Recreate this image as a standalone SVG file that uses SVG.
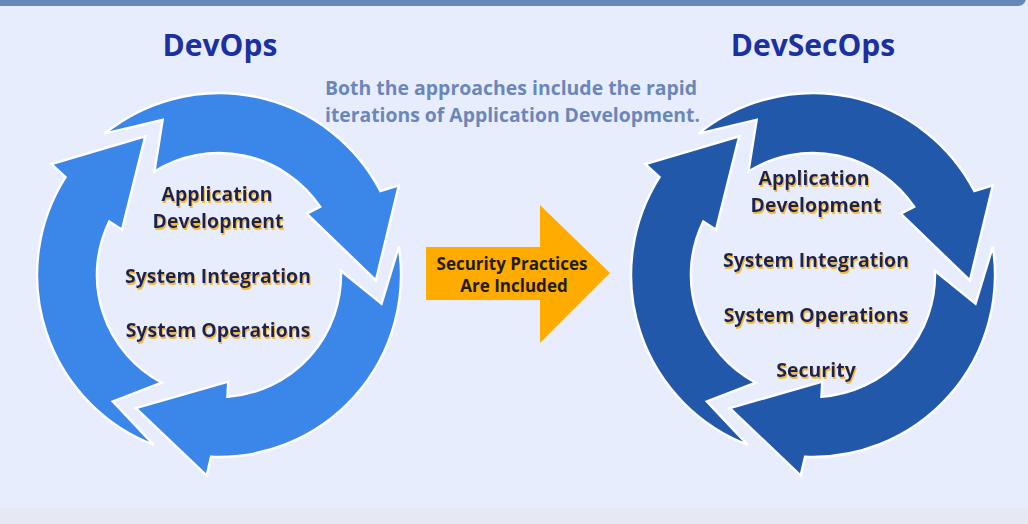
<svg xmlns="http://www.w3.org/2000/svg" width="1028" height="524" viewBox="0 0 1028 524">
<style>
.title{font-family:"Open Sans","Liberation Sans",sans-serif;font-weight:700;font-size:30px;fill:#1c31a0;text-anchor:middle}
.note{font-family:"Open Sans","Liberation Sans",sans-serif;font-weight:700;font-size:19.5px;fill:#6b87b9}
.item{font-family:"Open Sans","Liberation Sans",sans-serif;font-weight:700;font-size:19.5px;fill:#1b2350;text-anchor:middle}
.lbl{font-family:"Open Sans","Liberation Sans",sans-serif;font-weight:700;font-size:17px;fill:#231c05;text-anchor:middle}
.seg{stroke:#ffffff;stroke-width:2.5;stroke-linejoin:miter}
.devops .seg{fill:#3b87e9}
.devsecops .seg{fill:#2258a9}
</style>
<defs>
<filter id="ts" x="-5%" y="-30%" width="110%" height="160%">
<feOffset in="SourceAlpha" dx="1" dy="1.5" result="o"/>
<feFlood flood-color="#f0ba3c"/>
<feComposite in2="o" operator="in" result="s"/>
<feMerge><feMergeNode in="s"/><feMergeNode in="SourceGraphic"/></feMerge>
</filter>
<path id="arc1" d="M104.5 133.6 A182 182 0 0 1 380.4 191 L398.9 185.3 L375.9 280.5 L306.7 213.6 L320.1 206.8 A122 122 0 0 0 154.4 171.5 L162.6 119.9 Z"/>
<path id="arc2" d="M398.8 246.5 A182 182 0 0 1 211.1 456.8 L206.7 475.6 L135.8 408.1 L228.3 381.6 L227.5 396.7 A122 122 0 0 0 340.9 270.7 L381.5 303.6 Z"/>
<path id="arc3" d="M153.8 444.9 A182 182 0 0 1 65.5 177.2 L51.4 164.1 L145.3 136.4 L122 229.8 L109.3 221.5 A122 122 0 0 0 161.7 382.7 L112.9 401.4 Z"/>
</defs>
<rect width="1028" height="524" fill="#e8edfd"/>
<rect x="0" y="508" width="1028" height="16" fill="#e6e9f4"/>
<rect x="-20" y="-20" width="1046" height="26" rx="8" fill="#6687b7"/>

<g id="devops-title"><text class="title" x="220" y="56">DevOps</text></g>
<g id="devsecops-title"><text class="title" x="813" y="56">DevSecOps</text></g>
<g id="note"><text class="note" x="325" y="95" textLength="372" lengthAdjust="spacingAndGlyphs">Both the approaches include the rapid</text><text class="note" x="325" y="122" textLength="375" lengthAdjust="spacingAndGlyphs">iterations of Application Development.</text></g>

<g id="devops-cycle" class="devops">
<g class="connectors">
<use href="#arc1" class="seg"/>
<use href="#arc2" class="seg"/>
<use href="#arc3" class="seg"/>
</g>
<g filter="url(#ts)">
<text class="item" x="217" y="201">Application</text>
<text class="item" x="218" y="228">Development</text>
<text class="item" x="218" y="283">System Integration</text>
<text class="item" x="218" y="337">System Operations</text>
</g>
</g>

<g id="transition-arrow">
<path d="M426 247 H540 V205 L610 273 L540 343 V300 H426 Z" fill="#ffab00"/>
<text class="lbl" x="512" y="270">Security Practices</text>
<text class="lbl" x="514" y="292">Are Included</text>
</g>

<g id="devsecops-cycle" class="devsecops">
<g class="connectors" transform="translate(594 0)">
<use href="#arc1" class="seg"/>
<use href="#arc2" class="seg"/>
<use href="#arc3" class="seg"/>
</g>
<g filter="url(#ts)">
<text class="item" x="814" y="185">Application</text>
<text class="item" x="816" y="212">Development</text>
<text class="item" x="816" y="267">System Integration</text>
<text class="item" x="816" y="322">System Operations</text>
<text class="item" x="816" y="377">Security</text>
</g>
</g>
</svg>
